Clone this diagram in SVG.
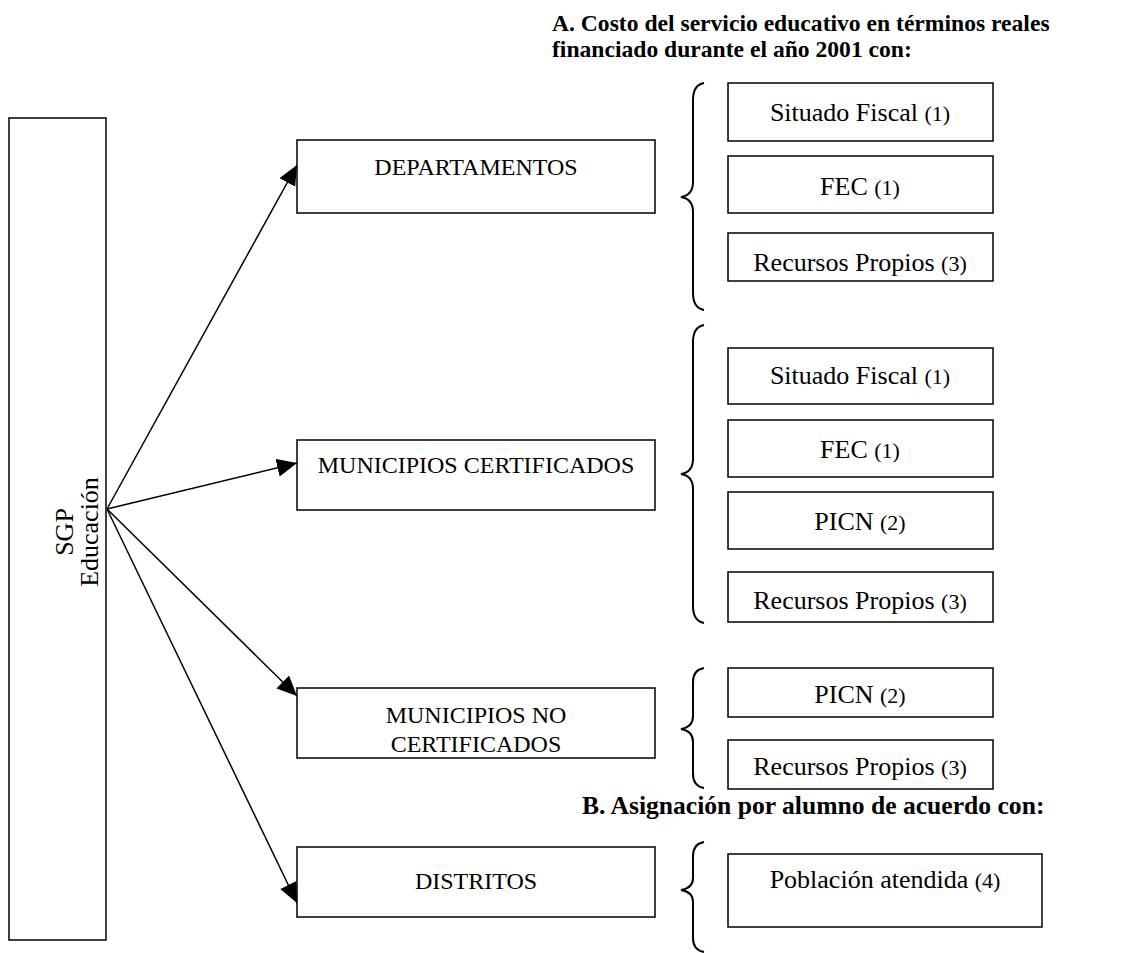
<svg xmlns="http://www.w3.org/2000/svg" width="1123" height="953" viewBox="0 0 1123 953">
<style>
.box{fill:#fff;stroke:#000;stroke-width:1.5}
.t{font-family:"Liberation Serif","Times New Roman",serif;fill:#000;text-anchor:middle}
.l{font-size:24px}
.v{font-size:26px}
.r{font-size:26px}
.s{font-size:22px}
.b{font-family:"Liberation Serif","Times New Roman",serif;font-weight:bold;font-size:23.6px;fill:#000}
.con{stroke:#000;stroke-width:1.5;fill:none}
.brace{stroke:#000;stroke-width:2;fill:none}
</style>
<defs>
<marker id="ah" markerUnits="userSpaceOnUse" markerWidth="22" markerHeight="20" refX="20" refY="9" orient="auto">
<path d="M0,0 L20,9 L0,18 z" fill="#000"/>
</marker>
</defs>
<text class="b" x="552" y="31">A. Costo del servicio educativo en términos reales</text>
<text class="b" x="552" y="57">financiado durante el año 2001 con:</text>
<text class="b" x="582" y="814" style="font-size:25.6px">B. Asignación por alumno de acuerdo con:</text>
<g id="connectors">
<line class="con" x1="107" y1="509" x2="297" y2="165" marker-end="url(#ah)"/>
<line class="con" x1="107" y1="509" x2="297" y2="463" marker-end="url(#ah)"/>
<line class="con" x1="107" y1="509" x2="297" y2="696" marker-end="url(#ah)"/>
<line class="con" x1="107" y1="509" x2="297" y2="903" marker-end="url(#ah)"/>
</g>
<g id="sgp">
<rect class="box" x="9" y="118" width="97" height="822"/>
<text class="t v" transform="translate(73,532) rotate(-90)">SGP</text>
<text class="t v" transform="translate(98,532) rotate(-90)">Educación</text>
</g>
<g id="departamentos">
<rect class="box" x="297" y="140" width="358" height="73"/>
<text class="t l" x="476" y="175">DEPARTAMENTOS</text>
</g>
<g id="municipios-cert">
<rect class="box" x="297" y="440" width="358" height="70"/>
<text class="t l" x="476" y="473">MUNICIPIOS CERTIFICADOS</text>
</g>
<g id="municipios-no-cert">
<rect class="box" x="297" y="688" width="358" height="70"/>
<text class="t l" x="476" y="723">MUNICIPIOS NO</text>
<text class="t l" x="476" y="752">CERTIFICADOS</text>
</g>
<g id="distritos">
<rect class="box" x="297" y="847" width="358" height="70"/>
<text class="t l" x="476" y="889">DISTRITOS</text>
</g>
<g id="brace1"><path class="brace" d="M704,83 Q693,85 693,100 L693,182 Q693,195 681,197 Q693,199 693,212 L693,293 Q693,308 704,310"/></g>
<g id="brace2"><path class="brace" d="M704,325 Q693,327 693,342 L693,459 Q693,472 681,474 Q693,476 693,489 L693,606 Q693,621 704,623"/></g>
<g id="brace3"><path class="brace" d="M704,668 Q693,670 693,682 L693,716 Q693,727 681,729 Q693,731 693,742 L693,774 Q693,786 704,788"/></g>
<g id="brace4"><path class="brace" d="M704,842 Q693,844 693,856 L693,878 Q693,888 681,890 Q693,892 693,902 L693,938 Q693,950 704,952"/></g>
<g id="d-situado">
<rect class="box" x="728" y="83" width="265" height="58"/>
<text class="t r" x="860" y="121">Situado Fiscal <tspan class="s">(1)</tspan></text>
</g>
<g id="d-fec">
<rect class="box" x="728" y="156" width="265" height="57"/>
<text class="t r" x="860" y="195">FEC <tspan class="s">(1)</tspan></text>
</g>
<g id="d-recursos">
<rect class="box" x="728" y="233" width="265" height="48"/>
<text class="t r" x="860" y="271">Recursos Propios <tspan class="s">(3)</tspan></text>
</g>
<g id="mc-situado">
<rect class="box" x="728" y="348" width="265" height="56"/>
<text class="t r" x="860" y="384">Situado Fiscal <tspan class="s">(1)</tspan></text>
</g>
<g id="mc-fec">
<rect class="box" x="728" y="420" width="265" height="57"/>
<text class="t r" x="860" y="458">FEC <tspan class="s">(1)</tspan></text>
</g>
<g id="mc-picn">
<rect class="box" x="728" y="492" width="265" height="57"/>
<text class="t r" x="860" y="530">PICN <tspan class="s">(2)</tspan></text>
</g>
<g id="mc-recursos">
<rect class="box" x="728" y="572" width="265" height="50"/>
<text class="t r" x="860" y="609">Recursos Propios <tspan class="s">(3)</tspan></text>
</g>
<g id="mnc-picn">
<rect class="box" x="728" y="668" width="265" height="49"/>
<text class="t r" x="860" y="703">PICN <tspan class="s">(2)</tspan></text>
</g>
<g id="mnc-recursos">
<rect class="box" x="728" y="740" width="265" height="49"/>
<text class="t r" x="860" y="775">Recursos Propios <tspan class="s">(3)</tspan></text>
</g>
<g id="di-poblacion">
<rect class="box" x="728" y="854" width="314" height="73"/>
<text class="t r" x="885" y="888">Población atendida <tspan class="s">(4)</tspan></text>
</g>
</svg>
